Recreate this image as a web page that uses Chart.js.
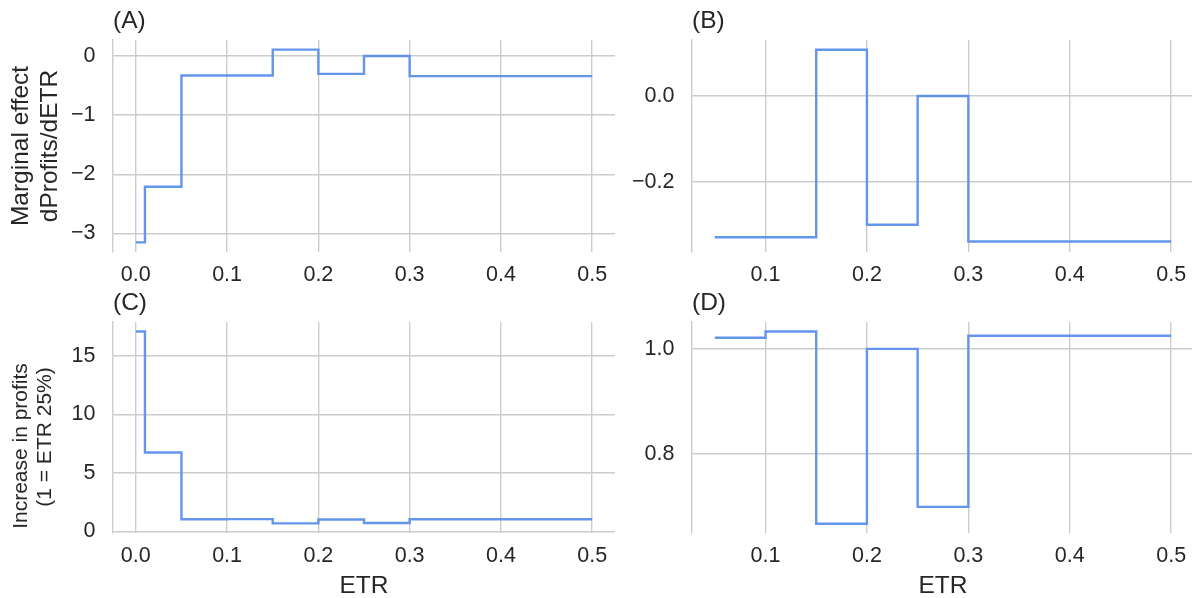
<!DOCTYPE html>
<html><head><meta charset="utf-8">
<script src="https://cdn.jsdelivr.net/npm/chart.js@4.4.1/dist/chart.umd.min.js"></script>
<style>
html,body{margin:0;padding:0;background:#fff;width:1192px;height:598px;overflow:hidden;position:relative}
canvas{position:absolute}
</style></head><body>
<canvas id="cA"></canvas><canvas id="cB"></canvas><canvas id="cC"></canvas><canvas id="cD"></canvas>
<script>
// ---- data ----
const etrFull = [0, 0.01, 0.05, 0.1, 0.15, 0.2, 0.25, 0.3, 0.5];
const etrZoom = [0.05, 0.1, 0.15, 0.2, 0.25, 0.3, 0.5];
const marginalFull = [-3.15, -2.21, -0.33, -0.33, 0.108, -0.301, 0.0, -0.34, -0.34];
const marginalZoom = [-0.33, -0.33, 0.108, -0.301, 0.0, -0.34, -0.34];
const profitsFull = [17.11, 6.74, 1.021, 1.033, 0.668, 1.0, 0.700, 1.025, 1.025];
const profitsZoom = [1.021, 1.033, 0.668, 1.0, 0.700, 1.025, 1.025];
const xTicksFull = [0, 0.1, 0.2, 0.3, 0.4, 0.5];
const xTicksZoom = [0.1, 0.2, 0.3, 0.4, 0.5];
const yTicksA = [-3, -2, -1, 0];
const yTicksB = [-0.2, 0.0];
const yTicksC = [0, 5, 10, 15];
const yTicksD = [0.8, 1.0];
const panelTitles = ['(A)', '(B)', '(C)', '(D)'];
const yLabelA = ['Marginal effect', 'dProfits/dETR'];
const yLabelC = ['Increase in profits', '(1 = ETR 25%)'];
const xLabel = 'ETR';

// ---- style ----
const FONT = '"Liberation Sans", Arial, sans-serif';
const TXT = '#262626';
const GRID = '#cccccc';
const LINE = '#6495ED';

function fmt(v, d) { return (v < -1e-12 ? '\u2212' : '') + Math.abs(v).toFixed(d); }

function makePanel(id, c) {
  const cv = document.getElementById(id);
  const left = c.area.l - c.yw, top = c.area.t - c.padTop;
  const W = (c.area.r - c.area.l) + c.yw + c.padRight;
  const H = c.padTop + (c.area.b - c.area.t) + c.xh;
  cv.style.left = left + 'px'; cv.style.top = top + 'px';
  cv.width = W; cv.height = H; cv.style.width = W + 'px'; cv.style.height = H + 'px';
  const textPlugin = {
    id: 'txt' + id,
    afterDraw(chart) {
      const ctx = chart.ctx;
      ctx.save();
      ctx.fillStyle = TXT;
      for (const t of c.texts) {
        ctx.save();
        ctx.font = t.size + 'px ' + FONT;
        ctx.textAlign = t.align || 'left';
        ctx.textBaseline = 'alphabetic';
        ctx.translate(t.x - left, t.y - top);
        if (t.rot) ctx.rotate(-Math.PI / 2);
        ctx.fillText(t.text, 0, 0);
        ctx.restore();
      }
      ctx.restore();
    }
  };
  return new Chart(cv, {
    type: 'line',
    data: { datasets: [{
      data: c.xs.map((x, i) => ({ x: x, y: c.ys[i] })),
      stepped: 'before', borderColor: LINE, borderWidth: 2.4,
      pointRadius: 0, fill: false
    }]},
    options: {
      responsive: false, animation: false, devicePixelRatio: 1,
      layout: { padding: { left: 0, top: c.padTop, right: c.padRight, bottom: 0 } },
      plugins: { legend: { display: false }, tooltip: { enabled: false }, title: { display: false } },
      scales: {
        x: {
          type: 'linear', position: 'bottom', min: c.x.min, max: c.x.max,
          grid: { color: GRID, lineWidth: 1.4, drawTicks: false },
          border: { display: false },
          ticks: { color: TXT, font: { family: FONT, size: 21.5 }, padding: 10.5,
                   autoSkip: false, maxRotation: 0, callback: v => fmt(v, 1) },
          afterBuildTicks: s => { s.ticks = c.x.ticks.map(v => ({ value: v })); },
          afterFit: s => { s.height = c.xh; }
        },
        y: {
          type: 'linear', position: 'left', min: c.y.min, max: c.y.max,
          grid: { color: GRID, lineWidth: 1.4, drawTicks: false },
          border: { display: true, color: GRID, width: 1.4 },
          ticks: { color: TXT, font: { family: FONT, size: 21.5 }, padding: 17.5,
                   autoSkip: false, callback: v => fmt(v, c.y.dec) },
          afterBuildTicks: s => { s.ticks = c.y.ticks.map(v => ({ value: v })); },
          afterFit: s => { s.width = c.yw; }
        }
      }
    },
    plugins: [textPlugin]
  });
}

const TS = 24.5;
makePanel('cA', {
  area: { l: 113, r: 615, t: 40, b: 252 }, yw: 113, padTop: 40, padRight: 12, xh: 45,
  x: { min: -0.025, max: 0.525, ticks: xTicksFull },
  y: { min: -3.313, max: 0.271, ticks: yTicksA, dec: 0 },
  xs: etrFull, ys: marginalFull,
  texts: [
    { text: panelTitles[0], x: 113, y: 28, size: TS },
    { text: yLabelA[0], x: 28, y: 146, size: TS, rot: true, align: 'center' },
    { text: yLabelA[1], x: 57, y: 146, size: TS, rot: true, align: 'center' }
  ]
});
makePanel('cB', {
  area: { l: 692, r: 1194, t: 40, b: 252 }, yw: 72, padTop: 40, padRight: 12, xh: 45,
  x: { min: 0.0275, max: 0.5225, ticks: xTicksZoom },
  y: { min: -0.3645, max: 0.1308, ticks: yTicksB, dec: 1 },
  xs: etrZoom, ys: marginalZoom,
  texts: [ { text: panelTitles[1], x: 692, y: 28, size: TS } ]
});
makePanel('cC', {
  area: { l: 113, r: 615, t: 322, b: 533 }, yw: 113, padTop: 40, padRight: 12, xh: 65,
  x: { min: -0.025, max: 0.525, ticks: xTicksFull },
  y: { min: -0.154, max: 17.93, ticks: yTicksC, dec: 0 },
  xs: etrFull, ys: profitsFull,
  texts: [
    { text: panelTitles[2], x: 113, y: 310, size: TS },
    { text: yLabelC[0], x: 27, y: 446, size: 21, rot: true, align: 'center' },
    { text: yLabelC[1], x: 50.5, y: 437, size: 21, rot: true, align: 'center' },
    { text: xLabel, x: 364, y: 593, size: TS, align: 'center' }
  ]
});
makePanel('cD', {
  area: { l: 692, r: 1194, t: 322, b: 533 }, yw: 72, padTop: 40, padRight: 12, xh: 65,
  x: { min: 0.0275, max: 0.5225, ticks: xTicksZoom },
  y: { min: 0.6503, max: 1.051, ticks: yTicksD, dec: 1 },
  xs: etrZoom, ys: profitsZoom,
  texts: [
    { text: panelTitles[3], x: 692, y: 310, size: TS },
    { text: xLabel, x: 943, y: 593, size: TS, align: 'center' }
  ]
});
</script>
</body></html>
